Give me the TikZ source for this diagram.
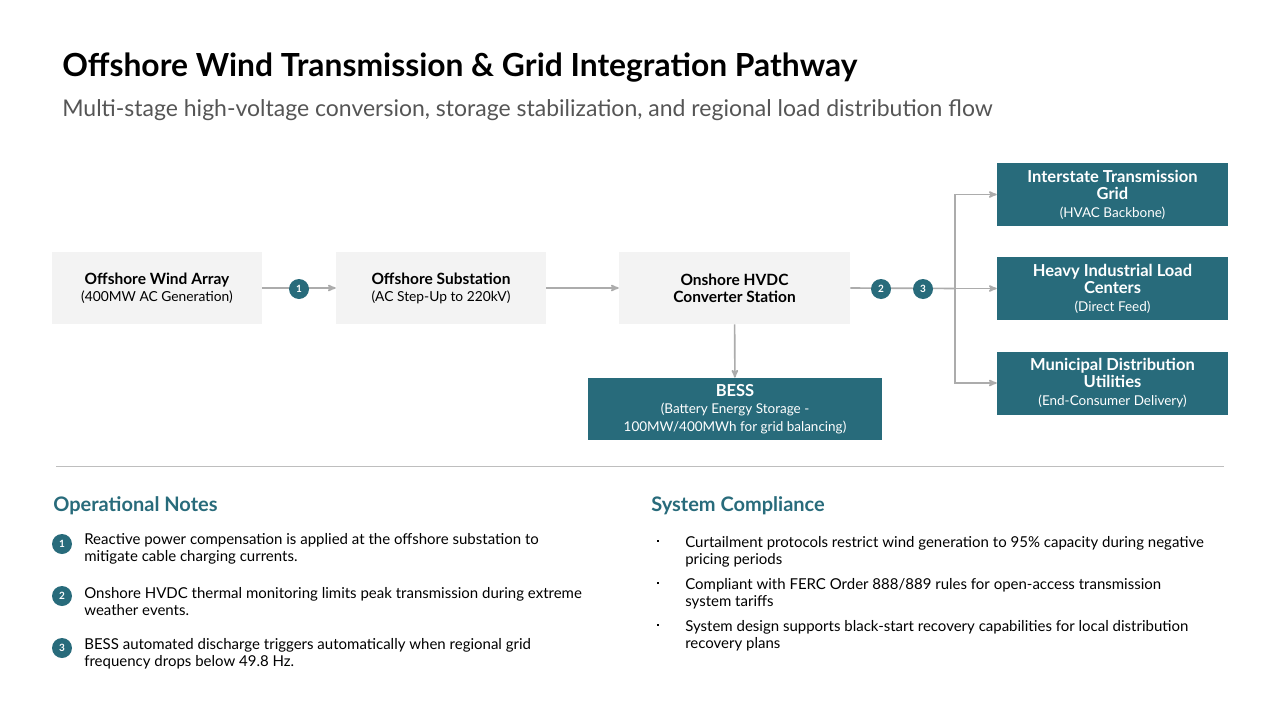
\documentclass[tikz,border=0pt]{standalone}
\usepackage{fontspec}
\setmainfont{Lato}
\usetikzlibrary{arrows}
\definecolor{deep_teal}{RGB}{40,107,123}
\definecolor{box_gray}{RGB}{243,243,243}
\definecolor{edge_gray}{RGB}{172,172,172}
\definecolor{sub_gray}{RGB}{85,85,85}
\definecolor{rule_gray}{RGB}{190,190,190}
\newcommand{\fs}[2]{\fontsize{#1}{#2}\selectfont}
\newcommand{\stagehead}[1]{{\bfseries\fs{15.5}{18}#1}}
\newcommand{\sinkhead}[1]{{\bfseries\fs{16.5}{18}#1}}

\begin{document}
\begin{tikzpicture}[x=1pt,y=-1pt,semithick,>=stealth']
    \tikzstyle{stage}=[fill=box_gray, minimum width=210, minimum height=72, align=center, text=black, inner sep=0, font=\fs{13.8}{17}]
    \tikzstyle{sink}=[fill=deep_teal, minimum width=231, minimum height=63, align=center, text=white, inner sep=0, font=\fs{13.5}{17.5}]
    \tikzstyle{badge}=[circle, fill=deep_teal, minimum size=20, inner sep=0, text=white, font=\bfseries\fs{10}{12}]
    \tikzstyle{flow}=[->, draw=edge_gray, line width=1.6]
    \tikzstyle{note}=[anchor=west, align=left, text=black, font=\fs{15}{17}, inner sep=0]
    \tikzstyle{head}=[anchor=west, text=deep_teal, font=\bfseries\fs{20}{22}, inner sep=0]

    \useasboundingbox (0,0) rectangle (1280,720);
    \fill[white] (0,0) rectangle (1280,720);

    \node[anchor=west, inner sep=0, font=\bfseries\fs{31.8}{36}] (title) at (62,68) {Offshore Wind Transmission \& Grid Integration Pathway};
    \node[anchor=west, inner sep=0, text=sub_gray, font=\fs{23}{26}] (subtitle) at (62,110) {Multi-stage high-voltage conversion, storage stabilization, and regional load distribution flow};

    \node[stage] (wind) at (157,288)   {\stagehead{Offshore Wind Array}\\(400MW AC Generation)};
    \node[stage] (sub)  at (441,288)   {\stagehead{Offshore Substation}\\(AC Step-Up to 220kV)};
    \node[stage, minimum width=231] (hvdc) at (734.5,288) {\stagehead{Onshore HVDC}\\\stagehead{Converter Station}};
    \node[sink, minimum width=294, minimum height=62] (bess) at (735,409) {\sinkhead{BESS}\\(Battery Energy Storage -\\100MW/400MWh for grid balancing)};

    \node[sink] (grid)  at (1112.5,194.5) {\sinkhead{Interstate Transmission}\\\sinkhead{Grid}\\(HVAC Backbone)};
    \node[sink] (heavy) at (1112.5,288.5) {\sinkhead{Heavy Industrial Load}\\\sinkhead{Centers}\\(Direct Feed)};
    \node[sink] (muni)  at (1112.5,383)   {\sinkhead{Municipal Distribution}\\\sinkhead{Utilities}\\(End-Consumer Delivery)};

    \coordinate (split) at (955,288.5);

    \path
     (wind)  edge[flow] (sub)
     (sub)   edge[flow] (hvdc)
     (hvdc)  edge[flow] (bess)
     (split) edge[flow] (heavy)
     ;
    \draw[draw=edge_gray, line width=1.6] (hvdc.east) -- (split);
    \draw[flow] (split) |- (grid.west);
    \draw[flow] (split) |- (muni.west);

    \node[badge] (b1) at (299,289) {1};
    \node[badge] (b2) at (881,289) {2};
    \node[badge] (b3) at (923,289) {3};

    \draw[rule_gray, line width=1] (56,466) -- (1224,466);

    % notes
    \node[head] (ophead) at (53,506) {Operational Notes};
    \node[badge] (n1) at (62,544) {1};
    \node[badge] (n2) at (62,596) {2};
    \node[badge] (n3) at (62,648) {3};
    \node[note] (t1) at (84,548.5) {Reactive power compensation is applied at the offshore substation to\\mitigate cable charging currents.};
    \node[note] (t2) at (84,601.5) {Onshore HVDC thermal monitoring limits peak transmission during extreme\\weather events.};
    \node[note] (t3) at (84,653.5) {BESS automated discharge triggers automatically when regional grid\\frequency drops below 49.8 Hz.};

    % compliance
    \node[head] (cphead) at (651,506) {System Compliance};
    \foreach \yy in {540,582,624} \fill[black] (657,\yy) rectangle (659,\yy+2);
    \node[note] (c1) at (685,551.5) {Curtailment protocols restrict wind generation to 95\% capacity during negative\\pricing periods};
    \node[note] (c2) at (685,593.5) {Compliant with FERC Order 888/889 rules for open-access transmission\\system tariffs};
    \node[note] (c3) at (685,635.5) {System design supports black-start recovery capabilities for local distribution\\recovery plans};
\end{tikzpicture}
\end{document}
